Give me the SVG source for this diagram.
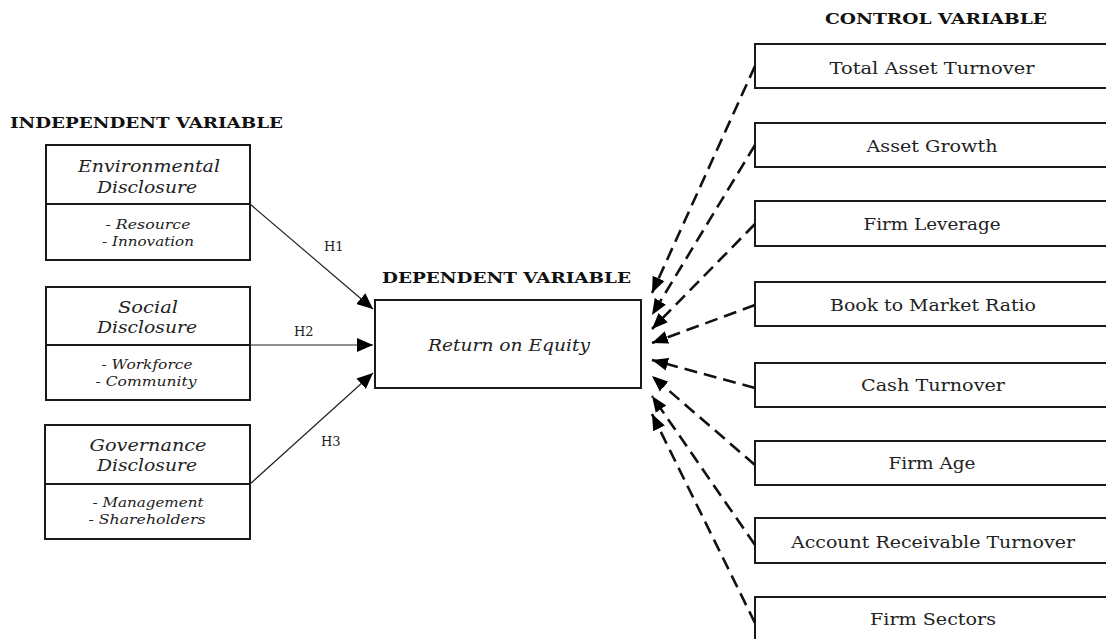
<svg xmlns="http://www.w3.org/2000/svg" width="1106" height="639" viewBox="0 0 1106 639">
<defs>
<style>
.box{fill:#fff;stroke:#1a1a1a;stroke-width:2}
.div{stroke:#1a1a1a;stroke-width:2.2}
.hdr{font-family:"DejaVu Serif","Liberation Serif",serif;font-weight:bold;font-size:15px;fill:#111}
.lbl{font-family:"DejaVu Serif","Liberation Serif",serif;font-size:16.5px;fill:#222;text-anchor:middle}
.it{font-family:"DejaVu Serif","Liberation Serif",serif;font-style:italic;font-size:16px;fill:#222;text-anchor:middle}
.its{font-family:"DejaVu Serif","Liberation Serif",serif;font-style:italic;font-size:13px;fill:#222;text-anchor:middle}
.h{font-family:"DejaVu Serif","Liberation Serif",serif;font-size:13px;fill:#222}
.sol{stroke:#222;stroke-width:1.2;fill:none}
.dash{stroke:#111;stroke-width:2.6;fill:none;stroke-dasharray:13 7}
</style>
<marker id="ah" markerUnits="userSpaceOnUse" markerWidth="18" markerHeight="14" refX="16" refY="7" orient="auto">
<path d="M0,0 L16,7 L0,14 Z" fill="#000"/>
</marker>
<marker id="ad" markerUnits="userSpaceOnUse" markerWidth="18" markerHeight="14" refX="16" refY="7" orient="auto">
<path d="M0,0.5 L16,7 L0,13.5 Z" fill="#000"/>
</marker>
</defs>
<rect width="1106" height="639" fill="#fff"/>

<text class="hdr" x="10" y="128" textLength="273" lengthAdjust="spacingAndGlyphs">INDEPENDENT VARIABLE</text>
<text class="hdr" x="382" y="283" textLength="249" lengthAdjust="spacingAndGlyphs">DEPENDENT VARIABLE</text>
<text class="hdr" x="825" y="24" textLength="222" lengthAdjust="spacingAndGlyphs">CONTROL VARIABLE</text>

<g id="env">
<rect class="box" x="46" y="145" width="204" height="115"/>
<line class="div" x1="46" y1="204" x2="250" y2="204"/>
<text class="it" x="149" y="172" textLength="142" lengthAdjust="spacingAndGlyphs">Environmental</text>
<text class="it" x="147" y="193" textLength="100" lengthAdjust="spacingAndGlyphs">Disclosure</text>
<text class="its" x="148" y="229" textLength="85" lengthAdjust="spacingAndGlyphs">- Resource</text>
<text class="its" x="148" y="246" textLength="92" lengthAdjust="spacingAndGlyphs">- Innovation</text>
</g>
<g id="soc">
<rect class="box" x="46" y="287" width="204" height="113"/>
<line class="div" x1="46" y1="345" x2="250" y2="345"/>
<text class="it" x="148" y="313" textLength="60" lengthAdjust="spacingAndGlyphs">Social</text>
<text class="it" x="147" y="333" textLength="100" lengthAdjust="spacingAndGlyphs">Disclosure</text>
<text class="its" x="147" y="369" textLength="91" lengthAdjust="spacingAndGlyphs">- Workforce</text>
<text class="its" x="146" y="386" textLength="101" lengthAdjust="spacingAndGlyphs">- Community</text>
</g>
<g id="gov">
<rect class="box" x="45" y="425" width="205" height="114"/>
<line class="div" x1="45" y1="484" x2="250" y2="484"/>
<text class="it" x="148" y="451" textLength="117" lengthAdjust="spacingAndGlyphs">Governance</text>
<text class="it" x="147" y="471" textLength="100" lengthAdjust="spacingAndGlyphs">Disclosure</text>
<text class="its" x="148" y="507" textLength="111" lengthAdjust="spacingAndGlyphs">- Management</text>
<text class="its" x="147" y="524" textLength="117" lengthAdjust="spacingAndGlyphs">- Shareholders</text>
</g>

<g id="roe">
<rect class="box" x="375" y="300" width="266" height="88"/>
<text class="it" x="509" y="351" textLength="162" lengthAdjust="spacingAndGlyphs">Return on Equity</text>
</g>

<g id="tat"><rect class="box" x="755" y="44" width="360" height="44"/><text class="lbl" x="932" y="74" textLength="205" lengthAdjust="spacingAndGlyphs">Total Asset Turnover</text></g>
<g id="ag"><rect class="box" x="755" y="123" width="360" height="44"/><text class="lbl" x="932" y="152" textLength="131" lengthAdjust="spacingAndGlyphs">Asset Growth</text></g>
<g id="fl"><rect class="box" x="755" y="201" width="360" height="45"/><text class="lbl" x="932" y="230" textLength="137" lengthAdjust="spacingAndGlyphs">Firm Leverage</text></g>
<g id="bmr"><rect class="box" x="755" y="282" width="360" height="44"/><text class="lbl" x="933" y="311" textLength="206" lengthAdjust="spacingAndGlyphs">Book to Market Ratio</text></g>
<g id="ct"><rect class="box" x="755" y="363" width="360" height="44"/><text class="lbl" x="933" y="391" textLength="144" lengthAdjust="spacingAndGlyphs">Cash Turnover</text></g>
<g id="fa"><rect class="box" x="755" y="441" width="360" height="44"/><text class="lbl" x="932" y="469" textLength="87" lengthAdjust="spacingAndGlyphs">Firm Age</text></g>
<g id="art"><rect class="box" x="755" y="518" width="360" height="45"/><text class="lbl" x="933" y="548" textLength="284" lengthAdjust="spacingAndGlyphs">Account Receivable Turnover</text></g>
<g id="fs"><rect class="box" x="755" y="597" width="360" height="60"/><text class="lbl" x="933" y="625" textLength="126" lengthAdjust="spacingAndGlyphs">Firm Sectors</text></g>

<g id="connectors">
<line class="sol" x1="250" y1="204" x2="373" y2="309" marker-end="url(#ah)"/>
<line class="sol" x1="250" y1="345" x2="373" y2="345" marker-end="url(#ah)"/>
<line class="sol" x1="250" y1="484" x2="373" y2="373" marker-end="url(#ah)"/>
<text class="h" x="324" y="251">H1</text>
<text class="h" x="294" y="336">H2</text>
<text class="h" x="321" y="446">H3</text>

<line class="dash" x1="755" y1="66" x2="652" y2="293" marker-end="url(#ad)"/>
<line class="dash" x1="755" y1="145" x2="652" y2="315" marker-end="url(#ad)"/>
<line class="dash" x1="755" y1="224" x2="652" y2="329" marker-end="url(#ad)"/>
<line class="dash" x1="755" y1="305" x2="652" y2="343" marker-end="url(#ad)"/>
<line class="dash" x1="755" y1="388" x2="652" y2="360" marker-end="url(#ad)"/>
<line class="dash" x1="755" y1="465" x2="652" y2="376" marker-end="url(#ad)"/>
<line class="dash" x1="755" y1="545" x2="652" y2="396" marker-end="url(#ad)"/>
<line class="dash" x1="755" y1="623" x2="652" y2="414" marker-end="url(#ad)"/>
</g>
</svg>
